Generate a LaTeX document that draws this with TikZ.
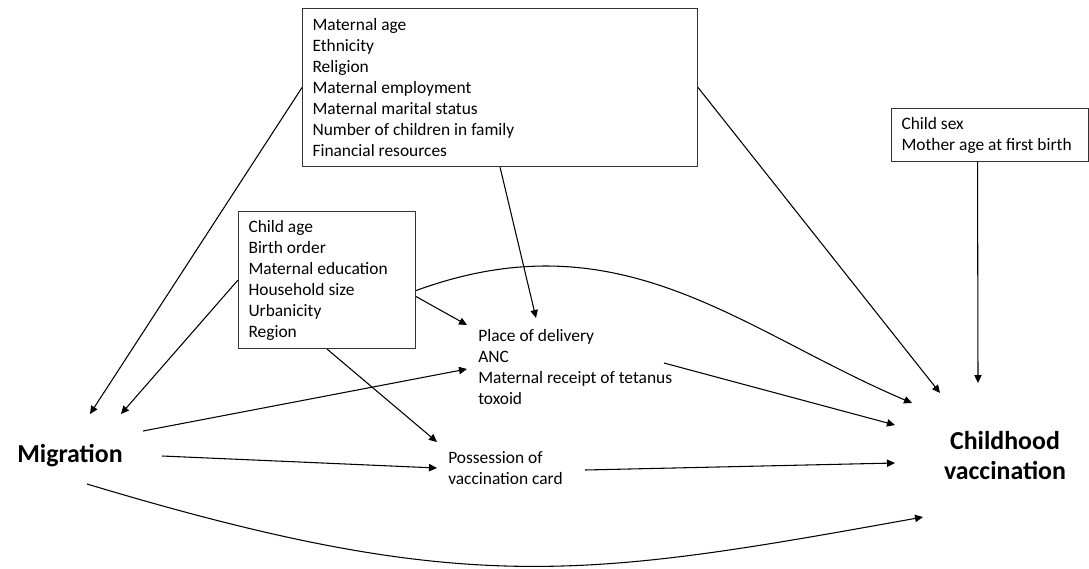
\documentclass[tikz,border=0pt]{standalone}
\usepackage{fontspec}
\setmainfont{Carlito}
\usetikzlibrary{arrows.meta,calc}

\tikzset{
  varbox/.style={draw=black!80, line width=0.8pt, anchor=north west, align=left,
    inner xsep=7.5pt, inner ysep=0pt, font=\fontsize{13.05pt}{15.75pt}\selectfont,
    execute at begin node={\spaceskip=0pt\xspaceskip=0pt\relax}},
  medtext/.style={inner sep=0pt, anchor=west, align=left,
    font=\fontsize{13.05pt}{15.75pt}\selectfont},
  mainvar/.style={inner sep=0pt, align=center,
    font=\fontsize{19.4pt}{22.5pt}\selectfont\bfseries},
  arr/.style={-{Triangle[length=6pt,width=5.5pt]}, line width=0.8pt},
}

\begin{document}
\begin{tikzpicture}[x=0.75pt, y=-0.75pt]
		%%%%% START %%%%%
		\useasboundingbox (0, 0) rectangle (1089, 568);
		
		\node[varbox, text width=281.25pt, minimum height=118.5pt] (confmom) at (302, 8)
		{Maternal age\\Ethnicity\\Religion\\Maternal employment\\Maternal marital status\\Number of children in family\\Financial resources};
		\node[varbox, text width=117.75pt, minimum height=102.75pt] (confhh) at (238, 211)
		{Child age\\Birth order\\Maternal education\\Household size\\Urbanicity\\Region};
		\node[varbox, text width=132.75pt, minimum height=39.75pt] (confchild) at (891, 108)
		{Child sex\\Mother age at first birth};
		
		\node[mainvar] (mig) at (70, 456) {Migration};
		\node[mainvar] (vacc) at (1005, 456) {Childhood\\vaccination};
		
		\node[medtext] (care) at (478, 367) {Place of delivery\\ANC\\Maternal receipt of tetanus\\toxoid};
		\node[medtext] (card) at (448, 468.5) {Possession of\\vaccination card};
		
		% confounders
		\draw[arr] (confmom.west) -- ([shift={(20,-42)}]mig.center);
		\draw[arr] (confhh.west) -- ([shift={(51,-42)}]mig.center);
		\draw[arr] (confmom.east) -- ([shift={(-65,-63)}]vacc.center);
		\draw[arr] (confmom.south) -- ([shift={(58,-49)}]care.west);
		\draw[arr] ([shift={(-12.5,0)}]confchild.south) -- ([shift={(-27,-73)}]vacc.center);
		\draw[arr] ([shift={(0,16.5)}]confhh.east) -- ([shift={(-11,-42)}]care.west);
		\draw[arr] (confhh.south) -- ([shift={(-11,-26.5)}]card.west);
		\draw[arr] ([shift={(0,10.5)}]confhh.east) .. controls +(205,-75) and +(-172,-73) .. ([shift={(-93,-53)}]vacc.center);
		
		% migration paths
		\draw[arr] ([shift={(73,-25)}]mig.center) -- ([shift={(-11,2)}]care.west);
		\draw[arr] ([shift={(92,0)}]mig.center) -- ([shift={(-11,-0.5)}]card.west);
		\draw[arr] ([shift={(186,-4)}]care.west) -- ([shift={(-110,-31)}]vacc.center);
		\draw[arr] ([shift={(137,1.5)}]card.west) -- ([shift={(-110,7)}]vacc.center);
		\draw[arr] ([shift={(17,28)}]mig.center) .. controls +(379,114) and +(-339,61) .. ([shift={(-82,61)}]vacc.center);
		%%%%% END %%%%%
\end{tikzpicture}
\end{document}
